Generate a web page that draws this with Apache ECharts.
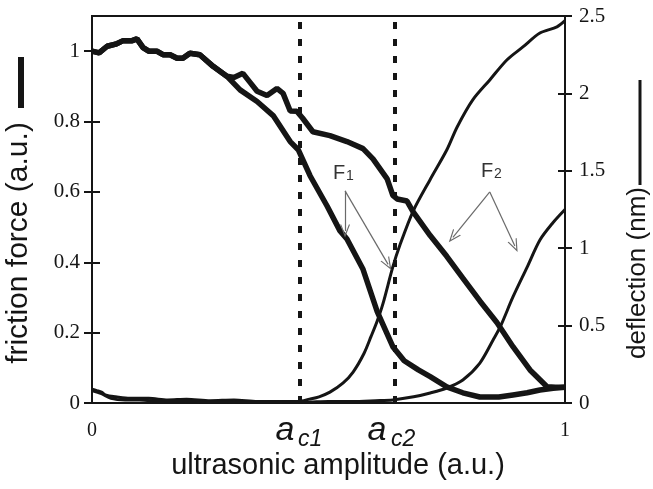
<!DOCTYPE html>
<html>
<head>
<meta charset="utf-8">
<script src="https://cdn.jsdelivr.net/npm/echarts@6/dist/echarts.min.js"></script>
<style>
  html, body { margin: 0; padding: 0; background: #fff; }
  #chart { width: 653px; height: 489px; }
</style>
</head>
<body>
<div id="chart"></div>
<script>
// friction force (left axis, a.u.) vs ultrasonic amplitude
const frictionF1X = [0, 0.015, 0.032, 0.05, 0.066, 0.085, 0.095, 0.108, 0.12, 0.137, 0.15, 0.165, 0.18, 0.192, 0.207, 0.228, 0.256, 0.285,
  0.313, 0.349, 0.383, 0.419, 0.436, 0.461, 0.497, 0.524, 0.539, 0.573, 0.603, 0.636, 0.66, 0.69, 0.715, 0.75, 0.784, 0.82, 0.86, 0.89, 0.92, 0.947, 0.975, 1.0]
const frictionF1Y = [1.0, 0.995, 1.014, 1.02, 1.03, 1.03, 1.035, 1.01, 1.0, 1.0, 0.99, 0.99, 0.98, 0.98, 0.994, 0.99, 0.957, 0.929,
  0.89, 0.857, 0.817, 0.743, 0.72, 0.646, 0.56, 0.49, 0.466, 0.38, 0.26, 0.16, 0.12, 0.094, 0.075, 0.046, 0.029, 0.017, 0.017, 0.023, 0.029, 0.037, 0.042, 0.045]
const frictionF2X = [0, 0.015, 0.032, 0.05, 0.066, 0.085, 0.095, 0.108, 0.12, 0.137, 0.15, 0.165, 0.18, 0.192, 0.207, 0.228, 0.256, 0.285,
  0.3, 0.319, 0.335, 0.349, 0.37, 0.391, 0.404, 0.419, 0.433, 0.445, 0.467, 0.503, 0.539, 0.573, 0.594, 0.624, 0.636, 0.645, 0.666, 0.679,
  0.715, 0.75, 0.784, 0.82, 0.856, 0.89, 0.926, 0.947, 0.962, 0.98, 1.0]
const frictionF2Y = [1.0, 0.995, 1.014, 1.02, 1.03, 1.03, 1.035, 1.01, 1.0, 1.0, 0.99, 0.99, 0.98, 0.98, 0.994, 0.99, 0.957, 0.929,
  0.925, 0.937, 0.91, 0.886, 0.874, 0.894, 0.88, 0.83, 0.829, 0.81, 0.771, 0.76, 0.743, 0.723, 0.694, 0.637, 0.59, 0.58, 0.574, 0.543,
  0.476, 0.417, 0.355, 0.29, 0.229, 0.16, 0.094, 0.066, 0.046, 0.045, 0.045]

// deflection (right axis, nm)
const deflection1X = [0, 0.01, 0.02, 0.03, 0.05, 0.08, 0.12, 0.16, 0.2, 0.25, 0.3, 0.35, 0.4, 0.436, 0.46, 0.48, 0.503, 0.531, 0.552, 0.575,
  0.59, 0.603, 0.615, 0.636, 0.651, 0.679, 0.715, 0.75, 0.772, 0.805, 0.841, 0.877, 0.911, 0.947, 0.983, 1.0]
const deflection1Y = [0.09, 0.08, 0.07, 0.05, 0.04, 0.03, 0.03, 0.02, 0.025, 0.015, 0.02, 0.01, 0.01, 0.01, 0.025, 0.04, 0.07, 0.13, 0.2, 0.32,
  0.43, 0.53, 0.64, 0.879, 1.02, 1.24, 1.444, 1.634, 1.783, 1.958, 2.087, 2.216, 2.3, 2.39, 2.43, 2.47]
const deflection2X = [0, 0.02, 0.04, 0.07, 0.1, 0.15, 0.2, 0.25, 0.3, 0.35, 0.4, 0.45, 0.5, 0.55, 0.6, 0.636, 0.68, 0.715, 0.75, 0.784,
  0.82, 0.848, 0.863, 0.89, 0.92, 0.947, 0.974, 1.0]
const deflection2Y = [0.08, 0.06, 0.03, 0.02, 0.02, 0.01, 0.015, 0.005, 0.01, 0.005, 0.01, 0.005, 0.01, 0.01, 0.015, 0.02, 0.04, 0.065, 0.097, 0.149,
  0.258, 0.407, 0.491, 0.685, 0.878, 1.053, 1.163, 1.25]

// critical amplitudes a_c1, a_c2
const criticalAmps = [0.436, 0.636]
// annotation arrows [from, to] in (amplitude, friction) units
const arrowsF1 = [[[0.535, 0.603], [0.535, 0.489]], [[0.535, 0.603], [0.626, 0.394]]]
const arrowsF2 = [[[0.841, 0.6], [0.763, 0.471]], [[0.841, 0.6], [0.894, 0.446]]]

const zip = (xs, ys) => xs.map((x, i) => [x, ys[i]])
const arrowHead = 'path://M5,0 L10,12 L8.8,12 L5,3 L1.2,12 L0,12 Z'
const ink = '#151515'
const serif = '"Liberation Serif", "DejaVu Serif", serif'
const sans = '"Liberation Sans", Arial, sans-serif'

let chart = echarts.init(document.getElementById('chart'))
chart.setOption({
  animation: false,
  backgroundColor: '#fff',
  grid: {
    show: true,
    left: 92,
    right: 88,
    top: 16,
    bottom: 86,
    borderColor: ink,
    borderWidth: 2
  },
  xAxis: {
    type: 'value',
    min: 0,
    max: 1,
    interval: 1,
    splitLine: {show: false},
    axisTick: {show: false},
    axisLine: {lineStyle: {color: ink, width: 2}},
    axisLabel: {color: ink, fontFamily: serif, fontSize: 20, margin: 18}
  },
  yAxis: [
    {
      type: 'value',
      position: 'left',
      min: 0,
      max: 1.1,
      interval: 0.2,
      splitLine: {show: false},
      axisLine: {show: true, lineStyle: {color: ink, width: 2}},
      axisTick: {show: true, length: 8, lineStyle: {color: ink, width: 2}},
      axisLabel: {color: ink, fontFamily: serif, fontSize: 21, margin: 12, showMaxLabel: false}
    },
    {
      type: 'value',
      position: 'right',
      min: 0,
      max: 2.5,
      interval: 0.5,
      splitLine: {show: false},
      axisLine: {show: true, lineStyle: {color: ink, width: 2}},
      axisTick: {show: true, length: 7, lineStyle: {color: ink, width: 2}},
      axisLabel: {color: ink, fontFamily: serif, fontSize: 21, margin: 14}
    },
    {
      type: 'value',
      position: 'left',
      min: 0,
      max: 1.1,
      interval: 0.2,
      splitLine: {show: false},
      axisLine: {show: false},
      axisTick: {show: true, inside: true, length: 8, lineStyle: {color: ink, width: 2}},
      axisLabel: {show: false}
    },
    {
      type: 'value',
      position: 'right',
      min: 0,
      max: 2.5,
      interval: 0.5,
      splitLine: {show: false},
      axisLine: {show: false},
      axisTick: {show: true, inside: true, length: 7, lineStyle: {color: ink, width: 2}},
      axisLabel: {show: false}
    }
  ],
  series: [
    {
      name: 'friction F1',
      type: 'line',
      yAxisIndex: 0,
      showSymbol: false,
      lineStyle: {color: ink, width: 5.5},
      data: zip(frictionF1X, frictionF1Y),
      markLine: {
        silent: true,
        symbol: 'none',
        label: {show: false},
        lineStyle: {color: ink, width: 4, type: [7, 10]},
        data: criticalAmps.map(a => ({xAxis: a}))
      }
    },
    {
      name: 'friction F2',
      type: 'line',
      yAxisIndex: 0,
      showSymbol: false,
      lineStyle: {color: ink, width: 5.5},
      data: zip(frictionF2X, frictionF2Y),
      markLine: {
        silent: true,
        symbol: ['none', arrowHead],
        symbolSize: [10, 13],
        label: {show: false},
        lineStyle: {color: '#6a6a6a', width: 1.2, type: 'solid'},
        data: arrowsF1.concat(arrowsF2).map(p => [{coord: p[0]}, {coord: p[1]}])
      }
    },
    {
      name: 'deflection 1',
      type: 'line',
      yAxisIndex: 1,
      showSymbol: false,
      smooth: 0.3,
      lineStyle: {color: ink, width: 3},
      data: zip(deflection1X, deflection1Y)
    },
    {
      name: 'deflection 2',
      type: 'line',
      yAxisIndex: 1,
      showSymbol: false,
      smooth: 0.3,
      lineStyle: {color: ink, width: 3},
      data: zip(deflection2X, deflection2Y)
    }
  ],
  graphic: [
    // left axis title with thick line key
    {
      type: 'text', x: 19, y: 243, rotation: Math.PI / 2,
      style: {text: 'friction force (a.u.)', font: '30px ' + sans, fill: ink, align: 'center', verticalAlign: 'middle'}
    },
    {type: 'line', shape: {x1: 21, y1: 57, x2: 21, y2: 108}, style: {stroke: ink, lineWidth: 6}},
    // right axis title with thin line key
    {
      type: 'text', x: 638, y: 273, rotation: Math.PI / 2,
      style: {text: 'deflection (nm)', font: '26px ' + sans, fill: ink, align: 'center', verticalAlign: 'middle'}
    },
    {type: 'line', shape: {x1: 640, y1: 80, x2: 640, y2: 185}, style: {stroke: ink, lineWidth: 3}},
    // x axis title
    {
      type: 'text', x: 338, y: 466,
      style: {text: 'ultrasonic amplitude (a.u.)', font: '29px ' + sans, fill: ink, align: 'center', verticalAlign: 'middle'}
    },
    // a_c1, a_c2
    {type: 'text', x: 285, y: 431, style: {text: 'a', font: 'italic 34px ' + sans, fill: ink, align: 'center', verticalAlign: 'middle'}},
    {type: 'text', x: 298, y: 440, style: {text: 'c1', font: 'italic 23px ' + sans, fill: ink, align: 'left', verticalAlign: 'middle'}},
    {type: 'text', x: 377, y: 431, style: {text: 'a', font: 'italic 34px ' + sans, fill: ink, align: 'center', verticalAlign: 'middle'}},
    {type: 'text', x: 391, y: 440, style: {text: 'c2', font: 'italic 23px ' + sans, fill: ink, align: 'left', verticalAlign: 'middle'}},
    // F1, F2 labels
    {type: 'text', x: 333, y: 173, style: {text: 'F', font: '20px ' + sans, fill: '#333', align: 'left', verticalAlign: 'middle'}},
    {type: 'text', x: 346, y: 176, style: {text: '1', font: '14px ' + sans, fill: '#333', align: 'left', verticalAlign: 'middle'}},
    {type: 'text', x: 481, y: 171, style: {text: 'F', font: '20px ' + sans, fill: '#333', align: 'left', verticalAlign: 'middle'}},
    {type: 'text', x: 494, y: 174, style: {text: '2', font: '14px ' + sans, fill: '#333', align: 'left', verticalAlign: 'middle'}}
  ]
})
</script>
</body>
</html>
